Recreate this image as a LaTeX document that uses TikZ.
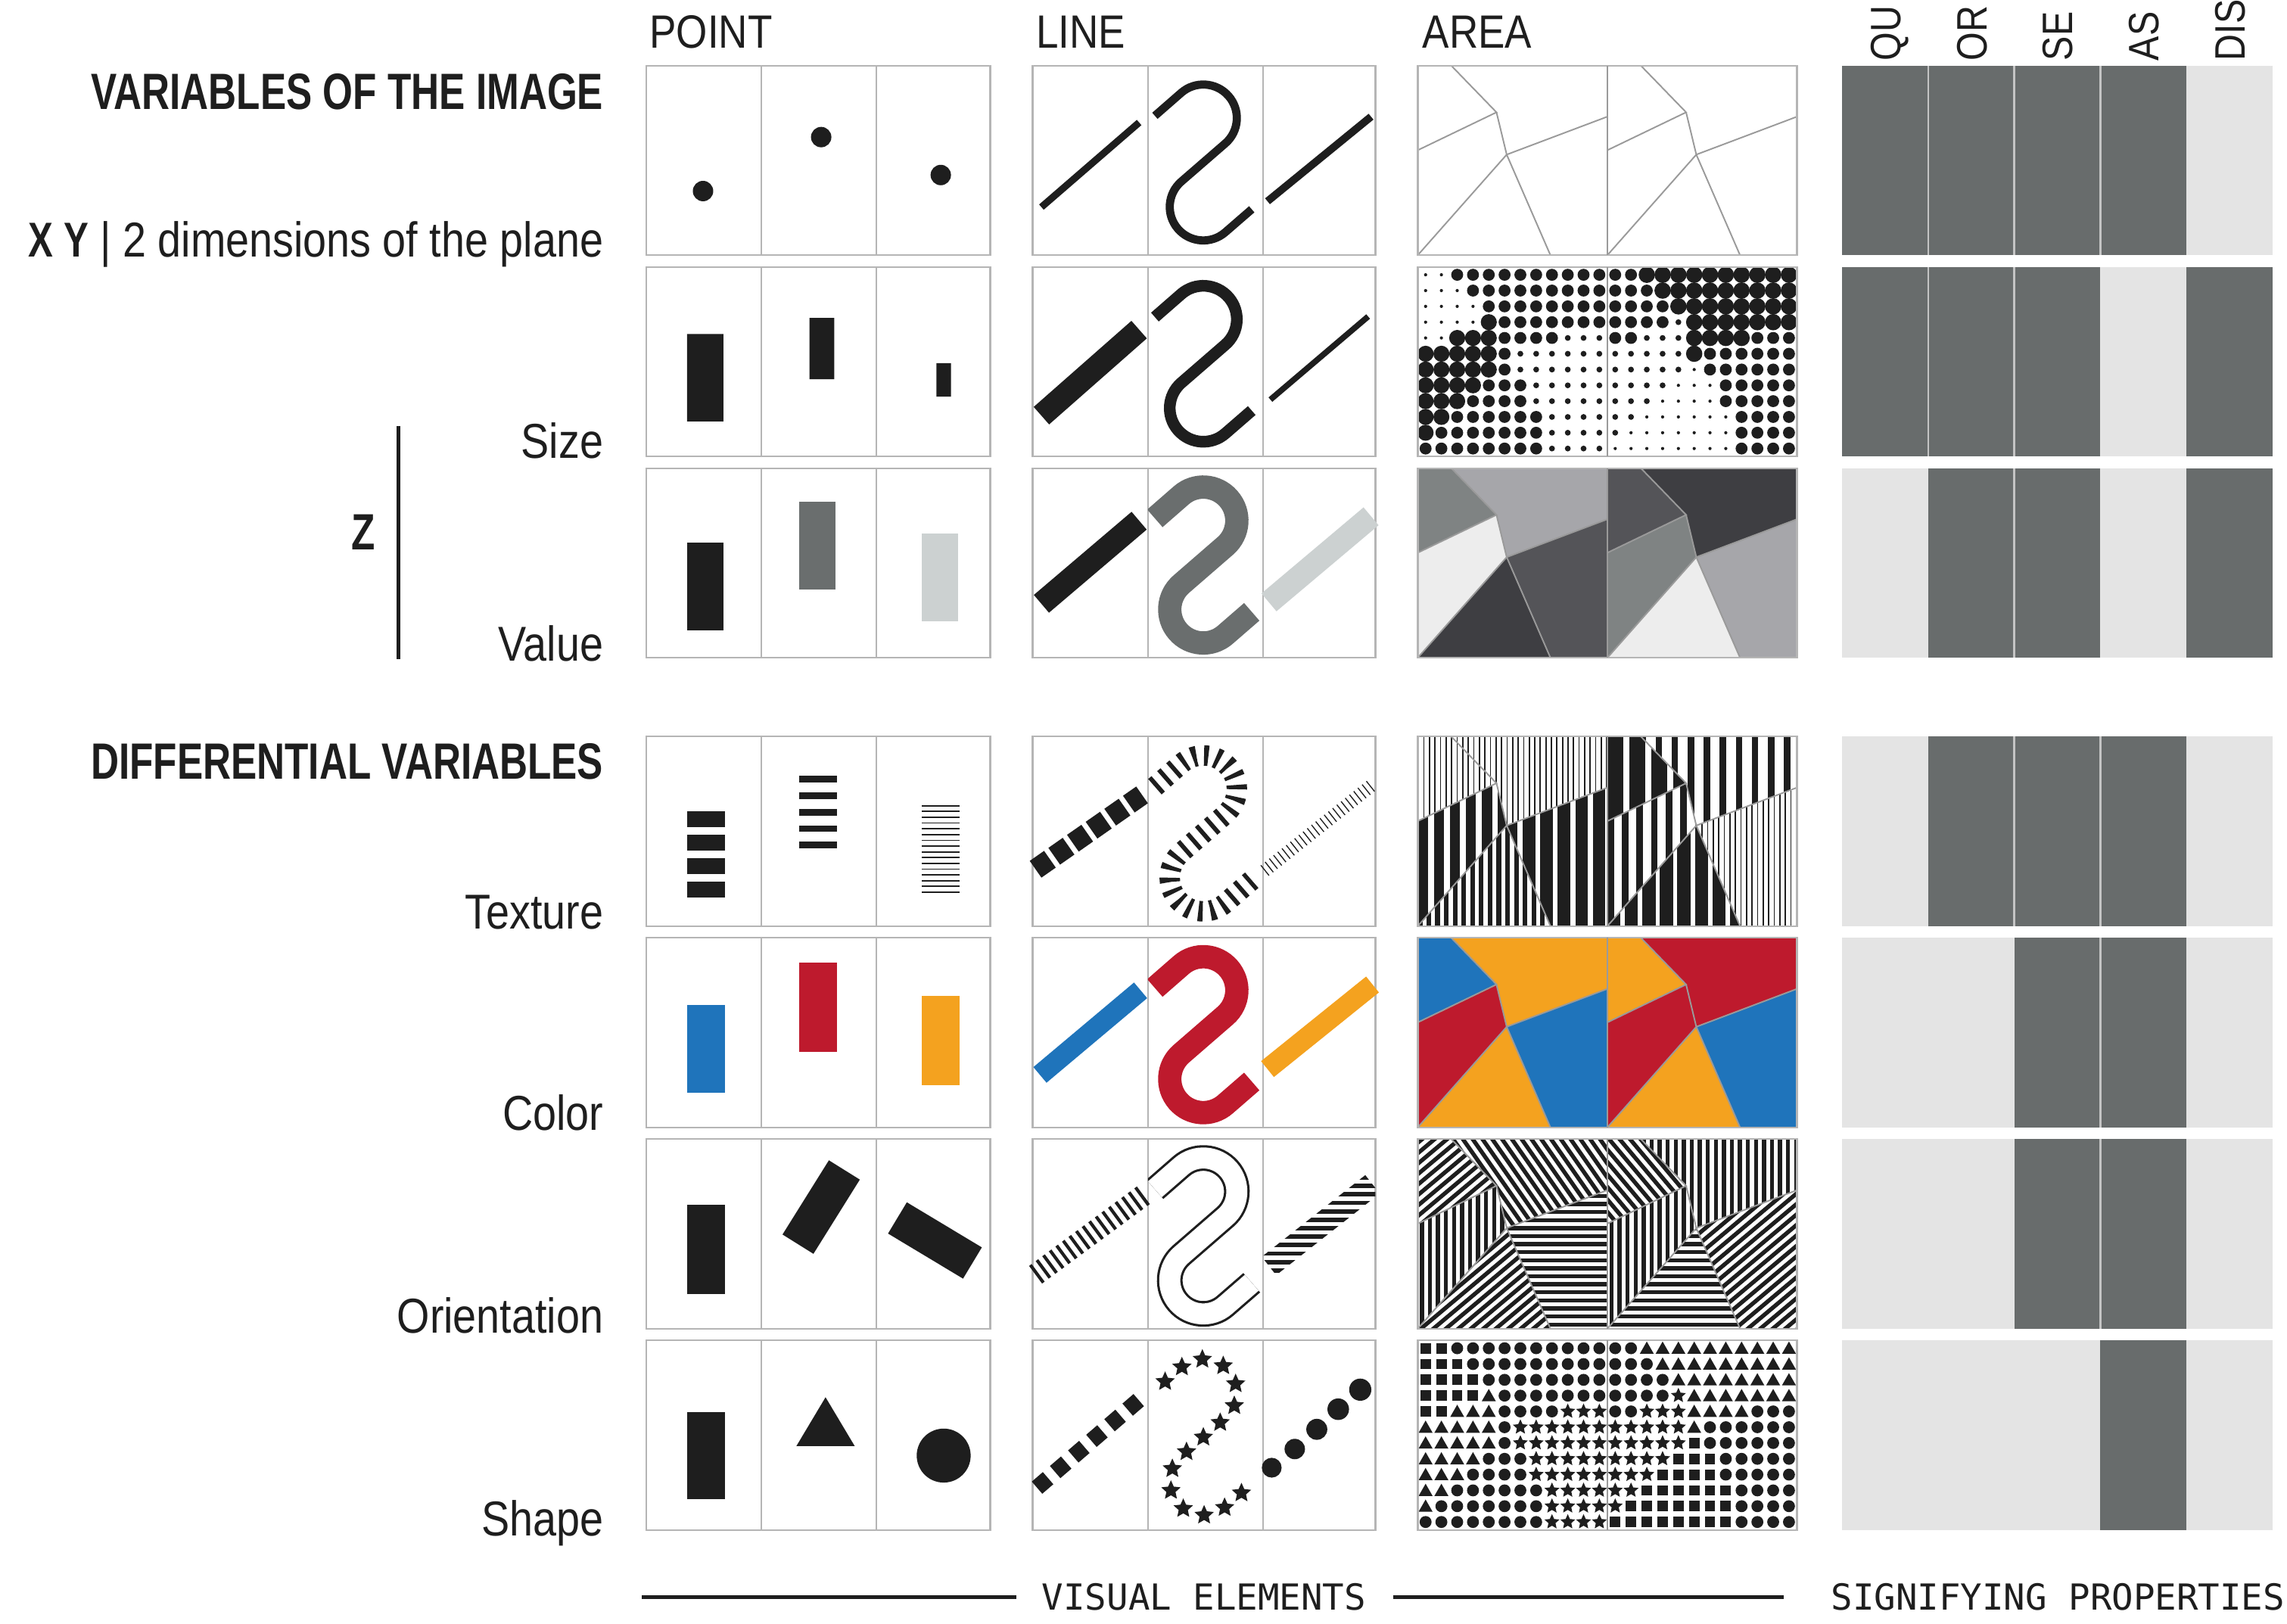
\documentclass[tikz,border=0pt]{standalone}
\usepackage{fontspec}
\setmainfont{Liberation Sans}[FakeStretch=0.86]
\newfontfamily\condbold{Liberation Sans Bold}[FakeStretch=0.76]
\newfontfamily\footmono{DejaVu Sans Mono}
\usetikzlibrary{decorations.markings}

\definecolor{ink}{HTML}{1E1E1E}
\definecolor{frame}{HTML}{B5B5B5}
\definecolor{edgegray}{HTML}{9A9A9A}
\definecolor{propdark}{HTML}{686C6C}
\definecolor{proplight}{HTML}{E4E4E4}
\definecolor{propsep}{HTML}{C4C4C4}
\definecolor{valmid}{HTML}{6A6E6E}
\definecolor{vallight}{HTML}{CCD1D1}
\definecolor{gA}{HTML}{7F8383}
\definecolor{gB}{HTML}{A6A6AA}
\definecolor{gC}{HTML}{EDEDED}
\definecolor{gD}{HTML}{3E3E42}
\definecolor{gE}{HTML}{545458}
\definecolor{cblue}{HTML}{1F74BB}
\definecolor{cred}{HTML}{BE1A2D}
\definecolor{corange}{HTML}{F4A21F}

% regions of one area panel (130 x 130, y downwards)
\newcommand{\regA}{(0,0) -- (23,0) -- (54,32) -- (0,58) -- cycle}
\newcommand{\regB}{(23,0) -- (130,0) -- (130,35) -- (61,61) -- (54,32) -- cycle}
\newcommand{\regC}{(0,58) -- (54,32) -- (61,61) -- (0,130) -- cycle}
\newcommand{\regD}{(0,130) -- (61,61) -- (91,130) -- cycle}
\newcommand{\regE}{(61,61) -- (130,35) -- (130,130) -- (91,130) -- cycle}
\newcommand{\areaedges}{\draw[edge] (23,0) -- (54,32) -- (0,58) (54,32) -- (61,61) -- (130,35) (61,61) -- (0,130) (61,61) -- (91,130);}
\newcommand{\inreg}[2]{\begin{scope}\clip #1; #2\end{scope}}

% fills for the regions
\newcommand{\vstripes}[2]{\foreach \x in {0,#1,...,131} \fill[ink] (\x,-1) rectangle ++(#2,132);}
\newcommand{\tilted}[1]{\begin{scope}[rotate around={#1:(65,65)}]\foreach \x in {-70,-64.5,...,200} \fill[ink] (\x,-70) rectangle ++(2.8,270);\end{scope}}

% 12 x 12 grid, letter = region
\newcommand{\regionmap}{%
1/{A,A,B,B,B,B,B,B,B,B,B,B},%
2/{A,A,A,B,B,B,B,B,B,B,B,B},%
3/{A,A,A,A,B,B,B,B,B,B,B,B},%
4/{A,A,A,A,C,B,B,B,B,B,B,B},%
5/{A,A,C,C,C,B,B,B,B,E,E,E},%
6/{C,C,C,C,C,B,E,E,E,E,E,E},%
7/{C,C,C,C,C,D,E,E,E,E,E,E},%
8/{C,C,C,C,D,D,D,E,E,E,E,E},%
9/{C,C,C,D,D,D,D,E,E,E,E,E},%
10/{C,C,D,D,D,D,D,D,E,E,E,E},%
11/{C,D,D,D,D,D,D,D,E,E,E,E},%
12/{D,D,D,D,D,D,D,D,E,E,E,E}}
\newcommand{\mapfield}{\foreach \j/\cells in \regionmap {\foreach \c [count=\i] in \cells {\csname m\c\endcsname{10.83*\i-5.43}{10.83*\j-5.43}}}}

\newcommand{\dotat}[3]{\fill[ink] (#2,#3) circle[radius=#1];}
\newcommand{\sqat}[2]{\fill[ink] (#1,#2) +(-3.6,-3.6) rectangle +(3.6,3.6);}
\newcommand{\ciat}[2]{\fill[ink] (#1,#2) circle[radius=4.1];}
\newcommand{\trat}[2]{\fill[ink] (#1,#2) +(0,-4.6) -- +(4.8,3.8) -- +(-4.8,3.8) -- cycle;}
\newcommand{\starat}[3]{\fill[ink] (#2,#3) +(-90:#1) -- +(-54:0.47*#1) -- +(-18:#1) -- +(18:0.47*#1) -- +(54:#1) -- +(90:0.47*#1) -- +(126:#1) -- +(162:0.47*#1) -- +(198:#1) -- +(234:0.47*#1) -- cycle;}

% the S of the line column (cell coordinates)
\newcommand{\Spath}{(4.8,34.4) -- (22.9,18.6) arc[start angle=-131,end angle=49,radius=23] -- (22.9,79.5) arc[start angle=229,end angle=49,radius=23] -- (71.2,98.5)}

\begin{document}
\begin{tikzpicture}[x=0.5pt,y=-0.5pt,
  frm/.style={draw=frame, line width=0.6pt},
  edge/.style={draw=edgegray, line width=0.5pt},
  lbl/.style={inner sep=0, text=ink, font=\fontsize{16.8}{18}\selectfont},
  ttl/.style={inner sep=0, text=ink, font=\condbold\fontsize{17.5}{20}\selectfont},
  hdr/.style={inner sep=0, text=ink, font=\fontsize{16}{18}\selectfont},
  foot/.style={inner sep=0, text=ink, font=\footmono\fontsize{12.3}{14}\selectfont},
  rule/.style={draw=ink, line width=1.3pt},
  pD/.style={fill=propdark}, pL/.style={fill=proplight}]
\clip (0,0) rectangle (1568,1113);
\fill[white] (0,0) rectangle (1568,1113);

% column heads
\node[hdr, anchor=base west] (hpoint) at (445,33) {POINT};
\node[hdr, anchor=base west] (hline) at (710,33) {LINE};
\node[hdr, anchor=base west] (harea) at (975,33) {AREA};
\foreach \x/\t/\n in {1303/QU/hqu, 1362/OR/hor, 1421/SE/hse, 1480/AS/has, 1539/DIS/hdis}
  \node[hdr, font=\fontsize{14.6}{16}\selectfont, rotate=90, anchor=base west] (\n) at (\x,42) {\t};

% row labels
\node[ttl, anchor=base east] (tvars) at (414,75) {VARIABLES OF THE IMAGE};
\node[lbl, anchor=base east] (txy) at (414,176) {{\condbold X Y} | 2 dimensions of the plane};
\node[lbl, anchor=base east] (tsize) at (414,314) {Size};
\node[lbl, anchor=base east] (tvalue) at (414,453) {Value};
\node[ttl, anchor=base] (tz) at (249,377) {Z};
\draw[ink, line width=1.3pt] (273,292) -- (273,452);
\node[ttl, anchor=base east] (tdiff) at (414,534) {DIFFERENTIAL VARIABLES};
\node[lbl, anchor=base east] (ttexture) at (414,637) {Texture};
\node[lbl, anchor=base east] (tcolor) at (414,775) {Color};
\node[lbl, anchor=base east] (torient) at (414,914) {Orientation};
\node[lbl, anchor=base east] (tshape) at (414,1053) {Shape};

% signifying properties
\foreach \y/\a/\b/\c/\d/\e in {45/pD/pD/pD/pD/pL, 183/pD/pD/pD/pL/pD, 321/pL/pD/pD/pL/pD,
  505/pL/pD/pD/pD/pL, 643/pL/pL/pD/pD/pL, 781/pL/pL/pD/pD/pL, 919/pL/pL/pL/pD/pL} {
  \fill[\a] (1263,\y) rectangle ++(59,130);
  \fill[\b] (1322,\y) rectangle ++(59,130);
  \fill[\c] (1381,\y) rectangle ++(59,130);
  \fill[\d] (1440,\y) rectangle ++(59,130);
  \fill[\e] (1499,\y) rectangle ++(59,130);
}
\foreach \y/\seps in {45/{1322,1381,1440}, 183/{1322,1381}, 321/{1381}, 505/{1381,1440}, 643/{1440}, 781/{1440}}
  \foreach \s in \seps \draw[propsep, line width=0.7pt] (\s,\y) -- ++(0,130);

% point and line frames
\foreach \y in {45,183,321,505,643,781,919} {
  \draw[frm] (443,\y) rectangle ++(236,130) (522,\y) -- ++(0,130) (601,\y) -- ++(0,130);
  \draw[frm] (708,\y) rectangle ++(235,130) (787,\y) -- ++(0,130) (866,\y) -- ++(0,130);
}

% point column
\fill[ink] (482,131) circle[radius=7] (563,94) circle[radius=7] (645,120) circle[radius=7];
\fill[ink] (471,229) rectangle (496,289) (555,218) rectangle (572,260) (642,249) rectangle (652,272);
\fill[ink] (471,372) rectangle (496,432);
\fill[valmid] (548,344) rectangle (573,404);
\fill[vallight] (632,366) rectangle (657,426);
\foreach \k in {0,...,3} \fill[ink] (471,556+16.2*\k) rectangle ++(26,11);
\foreach \k in {0,...,4} \fill[ink] (548,532+11.3*\k) rectangle ++(26,4.5);
\foreach \k in {0,...,15} \fill[ink] (632,552+3.95*\k) rectangle ++(26,0.9);
\fill[cblue] (471,689) rectangle (497,749);
\fill[cred] (548,660) rectangle (574,721);
\fill[corange] (632,683) rectangle (658,744);
\fill[ink] (471,826) rectangle (497,887);
\fill[ink, rotate around={-32:(563,827.6)}] (550.5,797.6) rectangle (575.5,857.6);
\fill[ink, rotate around={-31:(641,850.5)}] (611,838) rectangle (671,863);
\fill[ink] (471,968) rectangle (497,1028);
\fill[ink] (566,958) -- (586,991.5) -- (546,991.5) -- cycle;
\fill[ink] (647,998) circle[radius=18.5];

% line column
\draw[ink, line width=2.4pt] (714,142) -- (781,84);
\draw[ink, line width=2.6pt] (869,138) -- (940,80);
\draw[ink, line width=8pt] (714,285) -- (781,226);
\draw[ink, line width=2pt] (871,274) -- (938,217);
\draw[ink, line width=8pt] (714,414) -- (781,357);
\draw[vallight, line width=8pt] (870,413) -- (940,354);
\draw[ink, line width=7pt, dash pattern=on 6pt off 1.8pt] (710,596) -- (783,545);
\draw[ink, line width=4.5pt, dash pattern=on 0.35pt off 1.5pt] (867,597) -- (941,538);
\draw[cblue, line width=7pt] (713,737) -- (782,679);
\draw[corange, line width=7pt] (869,733) -- (941,675);
\draw[ink, line width=7.5pt, dash pattern=on 1.1pt off 1.7pt] (710,874) -- (786,818);
\begin{scope}
  \clip (866,781) rectangle (943,911);
  \clip (874.95,874.3) -- (865.05,861.7) -- (936.05,805.7) -- (945.95,818.3) -- cycle;
  \foreach \yy in {800,805.8,...,880} \fill[ink] (860,\yy) rectangle ++(90,3);
\end{scope}
\draw[ink, line width=5.5pt, dash pattern=on 5pt off 3.2pt] (711,1020) -- (783,958);
\foreach \x/\y/\r in {871.9/1006.3/6.8, 887.7/993.5/7, 902.8/980/7.2, 917.5/966.2/7.4, 932.6/952.8/7.6}
  \fill[ink] (\x,\y) circle[radius=\r];

\begin{scope}[shift={(787,45)}]
  \clip (0,0) rectangle (79,130);
  \draw[ink, line width=2.8pt] \Spath;
\end{scope}
\begin{scope}[shift={(787,183)}]
  \clip (0,0) rectangle (79,130);
  \draw[ink, line width=4pt] \Spath;
\end{scope}
\begin{scope}[shift={(787,321)}]
  \clip (0,0) rectangle (79,130);
  \draw[valmid, line width=8pt] \Spath;
\end{scope}
\begin{scope}[shift={(787,505)}]
  \clip (0,0) rectangle (79,130);
  \draw[ink, line width=7pt, dash pattern=on 1.5pt off 2.6pt] \Spath;
\end{scope}
\begin{scope}[shift={(787,643)}]
  \clip (0,0) rectangle (79,130);
  \draw[cred, line width=8pt] \Spath;
\end{scope}
\begin{scope}[shift={(787,781)}]
  \clip (0,0) rectangle (79,130);
  \draw[ink, line width=0.8pt, double=white, double distance=7.2pt] \Spath;
\end{scope}
\begin{scope}[shift={(787,919)}]
  \path[decoration={markings, mark=between positions 0.04 and 0.97 step 0.0657 with {\pgftransformresetnontranslations \starat{7}{0}{0}}}, decorate] \Spath;
\end{scope}

% area column: outlines
\foreach \px in {972,1102} {
  \begin{scope}[shift={(\px,45)}] \areaedges \end{scope}
}
% area: size
\begin{scope}[shift={(972,183)}]
  \def\mA{\dotat{1.1}}\def\mB{\dotat{4.1}}\def\mC{\dotat{5.5}}\def\mD{\dotat{4.1}}\def\mE{\dotat{2}}
  \mapfield
\end{scope}
\begin{scope}[shift={(1102,183)}]
  \def\mA{\dotat{4.1}}\def\mB{\dotat{5.6}}\def\mC{\dotat{2}}\def\mD{\dotat{1.1}}\def\mE{\dotat{4.1}}
  \mapfield
\end{scope}
% area: value
\begin{scope}[shift={(972,321)}]
  \fill[gA] \regA; \fill[gB] \regB; \fill[gC] \regC; \fill[gD] \regD; \fill[gE] \regE;
  \areaedges
\end{scope}
\begin{scope}[shift={(1102,321)}]
  \fill[gE] \regA; \fill[gD] \regB; \fill[gA] \regC; \fill[gC] \regD; \fill[gB] \regE;
  \areaedges
\end{scope}
% area: texture
\begin{scope}[shift={(972,505)}]
  \inreg{\regA}{\vstripes{3.8}{0.9}}
  \inreg{\regB}{\vstripes{3.8}{0.9}}
  \inreg{\regC}{\vstripes{11}{7}}
  \inreg{\regD}{\vstripes{6}{3.2}}
  \inreg{\regE}{\vstripes{12}{8.5}}
  \areaedges
\end{scope}
\begin{scope}[shift={(1102,505)}]
  \inreg{\regA}{\vstripes{15}{11}}
  \inreg{\regB}{\vstripes{11}{4.5}}
  \inreg{\regC}{\vstripes{10}{4.5}}
  \inreg{\regD}{\vstripes{12}{9}}
  \inreg{\regE}{\vstripes{3.8}{0.9}}
  \areaedges
\end{scope}
% area: color
\begin{scope}[shift={(972,643)}]
  \fill[cblue] \regA; \fill[corange] \regB; \fill[cred] \regC; \fill[corange] \regD; \fill[cblue] \regE;
  \areaedges
\end{scope}
\begin{scope}[shift={(1102,643)}]
  \fill[corange] \regA; \fill[cred] \regB; \fill[cred] \regC; \fill[corange] \regD; \fill[cblue] \regE;
  \areaedges
\end{scope}
% area: orientation
\begin{scope}[shift={(972,781)}]
  \inreg{\regA}{\tilted{-50}}
  \inreg{\regB}{\tilted{35}}
  \inreg{\regC}{\tilted{0}}
  \inreg{\regD}{\tilted{-50}}
  \inreg{\regE}{\tilted{90}}
  \areaedges
\end{scope}
\begin{scope}[shift={(1102,781)}]
  \inreg{\regA}{\tilted{40}}
  \inreg{\regB}{\tilted{0}}
  \inreg{\regC}{\tilted{0}}
  \inreg{\regD}{\tilted{90}}
  \inreg{\regE}{\tilted{-50}}
  \areaedges
\end{scope}
% area: shape
\begin{scope}[shift={(972,919)}]
  \def\mA{\sqat}\def\mB{\ciat}\def\mC{\trat}\def\mD{\ciat}\def\mE{\starat{5.4}}
  \mapfield
\end{scope}
\begin{scope}[shift={(1102,919)}]
  \def\mA{\ciat}\def\mB{\trat}\def\mC{\starat{5.4}}\def\mD{\sqat}\def\mE{\ciat}
  \mapfield
\end{scope}
\foreach \y in {45,183,321,505,643,781,919} {
  \draw[frm] (972,\y) rectangle ++(260,130);
  \draw[draw=edgegray, line width=0.7pt] (1102,\y) -- ++(0,130);
}

% bottom captions
\node[foot, anchor=base west] (tvisual) at (714,1104) {VISUAL ELEMENTS};
\node[foot, anchor=base west] (tsignif) at (1255,1104) {SIGNIFYING PROPERTIES};
\draw[rule] (440,1095) -- (697,1095);
\draw[rule] (955,1095) -- (1223,1095);
\end{tikzpicture}
\end{document}
